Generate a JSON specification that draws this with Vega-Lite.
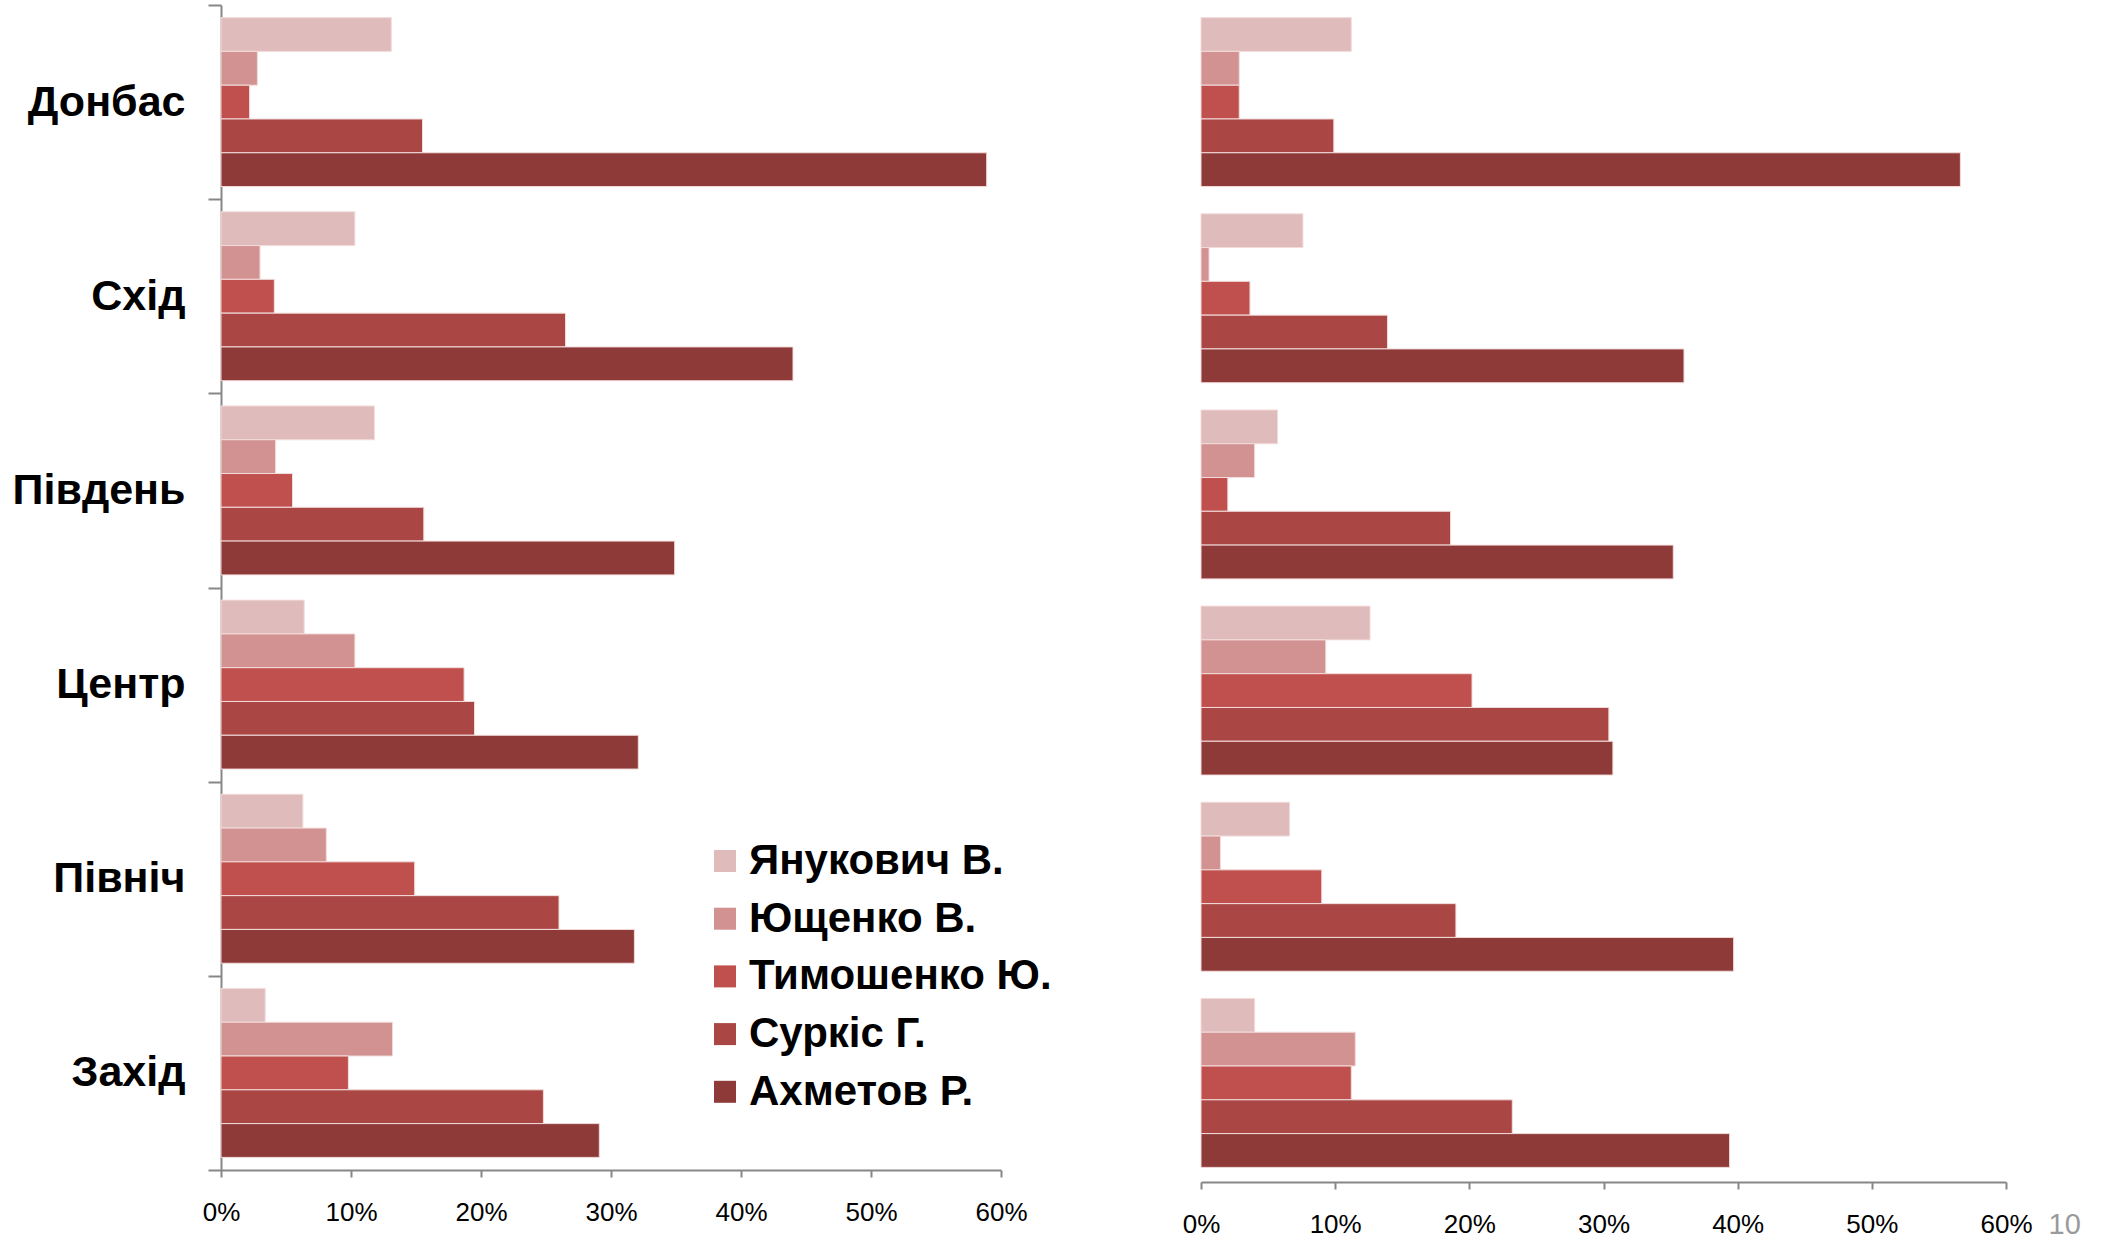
{
  "$schema": "https://vega.github.io/schema/vega-lite/v6.json",
  "padding": {"left": 12, "top": -16, "right": 5, "bottom": 5},
  "background": "white",
  "datasets": {
    "survey1": [
      {"region": "Донбас", "candidate": "Янукович В.", "share": 0.131},
      {"region": "Донбас", "candidate": "Ющенко В.", "share": 0.028},
      {"region": "Донбас", "candidate": "Тимошенко Ю.", "share": 0.022},
      {"region": "Донбас", "candidate": "Суркіс Г.", "share": 0.155},
      {"region": "Донбас", "candidate": "Ахметов Р.", "share": 0.589},
      {"region": "Схід", "candidate": "Янукович В.", "share": 0.103},
      {"region": "Схід", "candidate": "Ющенко В.", "share": 0.030},
      {"region": "Схід", "candidate": "Тимошенко Ю.", "share": 0.041},
      {"region": "Схід", "candidate": "Суркіс Г.", "share": 0.265},
      {"region": "Схід", "candidate": "Ахметов Р.", "share": 0.440},
      {"region": "Південь", "candidate": "Янукович В.", "share": 0.118},
      {"region": "Південь", "candidate": "Ющенко В.", "share": 0.042},
      {"region": "Південь", "candidate": "Тимошенко Ю.", "share": 0.055},
      {"region": "Південь", "candidate": "Суркіс Г.", "share": 0.156},
      {"region": "Південь", "candidate": "Ахметов Р.", "share": 0.349},
      {"region": "Центр", "candidate": "Янукович В.", "share": 0.064},
      {"region": "Центр", "candidate": "Ющенко В.", "share": 0.103},
      {"region": "Центр", "candidate": "Тимошенко Ю.", "share": 0.187},
      {"region": "Центр", "candidate": "Суркіс Г.", "share": 0.195},
      {"region": "Центр", "candidate": "Ахметов Р.", "share": 0.321},
      {"region": "Північ", "candidate": "Янукович В.", "share": 0.063},
      {"region": "Північ", "candidate": "Ющенко В.", "share": 0.081},
      {"region": "Північ", "candidate": "Тимошенко Ю.", "share": 0.149},
      {"region": "Північ", "candidate": "Суркіс Г.", "share": 0.260},
      {"region": "Північ", "candidate": "Ахметов Р.", "share": 0.318},
      {"region": "Захід", "candidate": "Янукович В.", "share": 0.034},
      {"region": "Захід", "candidate": "Ющенко В.", "share": 0.132},
      {"region": "Захід", "candidate": "Тимошенко Ю.", "share": 0.098},
      {"region": "Захід", "candidate": "Суркіс Г.", "share": 0.248},
      {"region": "Захід", "candidate": "Ахметов Р.", "share": 0.291}
    ],
    "survey2": [
      {"region": "Донбас", "candidate": "Янукович В.", "share": 0.112},
      {"region": "Донбас", "candidate": "Ющенко В.", "share": 0.0285},
      {"region": "Донбас", "candidate": "Тимошенко Ю.", "share": 0.0285},
      {"region": "Донбас", "candidate": "Суркіс Г.", "share": 0.099},
      {"region": "Донбас", "candidate": "Ахметов Р.", "share": 0.566},
      {"region": "Схід", "candidate": "Янукович В.", "share": 0.076},
      {"region": "Схід", "candidate": "Ющенко В.", "share": 0.006},
      {"region": "Схід", "candidate": "Тимошенко Ю.", "share": 0.0365},
      {"region": "Схід", "candidate": "Суркіс Г.", "share": 0.139},
      {"region": "Схід", "candidate": "Ахметов Р.", "share": 0.360},
      {"region": "Південь", "candidate": "Янукович В.", "share": 0.057},
      {"region": "Південь", "candidate": "Ющенко В.", "share": 0.040},
      {"region": "Південь", "candidate": "Тимошенко Ю.", "share": 0.020},
      {"region": "Південь", "candidate": "Суркіс Г.", "share": 0.186},
      {"region": "Південь", "candidate": "Ахметов Р.", "share": 0.352},
      {"region": "Центр", "candidate": "Янукович В.", "share": 0.126},
      {"region": "Центр", "candidate": "Ющенко В.", "share": 0.093},
      {"region": "Центр", "candidate": "Тимошенко Ю.", "share": 0.202},
      {"region": "Центр", "candidate": "Суркіс Г.", "share": 0.304},
      {"region": "Центр", "candidate": "Ахметов Р.", "share": 0.307},
      {"region": "Північ", "candidate": "Янукович В.", "share": 0.066},
      {"region": "Північ", "candidate": "Ющенко В.", "share": 0.0145},
      {"region": "Північ", "candidate": "Тимошенко Ю.", "share": 0.090},
      {"region": "Північ", "candidate": "Суркіс Г.", "share": 0.190},
      {"region": "Північ", "candidate": "Ахметов Р.", "share": 0.397},
      {"region": "Захід", "candidate": "Янукович В.", "share": 0.040},
      {"region": "Захід", "candidate": "Ющенко В.", "share": 0.115},
      {"region": "Захід", "candidate": "Тимошенко Ю.", "share": 0.112},
      {"region": "Захід", "candidate": "Суркіс Г.", "share": 0.232},
      {"region": "Захід", "candidate": "Ахметов Р.", "share": 0.394}
    ]
  },
  "hconcat": [
    {
      "width": 780,
      "height": 1165,
      "data": {"name": "survey1"},
      "mark": {"type": "bar", "stroke": "#F2DCDB", "strokeWidth": 1},
      "encoding": {
        "y": {
          "field": "region",
          "type": "nominal",
          "sort": ["Донбас", "Схід", "Південь", "Центр", "Північ", "Захід"],
          "scale": {"paddingInner": 0, "paddingOuter": 0},
          "axis": {
            "title": null,
            "domain": true,
            "domainColor": "#878787",
            "domainWidth": 2,
            "ticks": true,
            "tickBand": "extent",
            "tickSize": 13,
            "tickWidth": 2,
            "tickColor": "#878787",
            "labelFont": "Liberation Sans",
            "labelFontWeight": "bold",
            "labelFontSize": 43,
            "labelColor": "#000000",
            "labelPadding": 23,
            "labelLimit": 400
          }
        },
        "yOffset": {
          "field": "candidate",
          "type": "nominal",
          "sort": ["Янукович В.", "Ющенко В.", "Тимошенко Ю.", "Суркіс Г.", "Ахметов Р."],
          "scale": {"paddingInner": 0, "paddingOuter": 0.373}
        },
        "x": {
          "field": "share",
          "type": "quantitative",
          "scale": {"domain": [0, 0.6], "nice": false},
          "axis": {
            "title": null,
            "format": ".0%",
            "values": [0, 0.1, 0.2, 0.3, 0.4, 0.5, 0.6],
            "grid": false,
            "domainColor": "#878787",
            "domainWidth": 2,
            "tickColor": "#878787",
            "tickWidth": 2,
            "tickSize": 7,
            "labelFont": "Liberation Sans",
            "labelFontSize": 26,
            "labelColor": "#000000",
            "labelPadding": 22,
            "labelFlush": false
          }
        },
        "color": {
          "field": "candidate",
          "type": "nominal",
          "scale": {
            "domain": ["Янукович В.", "Ющенко В.", "Тимошенко Ю.", "Суркіс Г.", "Ахметов Р."],
            "range": ["#E0BBBB", "#D39292", "#C0504D", "#AA4644", "#8E3A38"]
          },
          "legend": {
            "title": null,
            "orient": "none",
            "legendX": 483,
            "legendY": 835,
            "padding": 0,
            "symbolType": "square",
            "symbolSize": 484,
            "symbolStrokeWidth": 0,
            "symbolOpacity": 1,
            "labelFont": "Liberation Sans",
            "labelFontWeight": "bold",
            "labelFontSize": 42,
            "labelColor": "#000000",
            "labelOffset": 3,
            "labelLimit": 600,
            "rowPadding": 15.7
          }
        }
      }
    },
    {
      "width": 805,
      "height": 1177,
      "data": {"name": "survey2"},
      "mark": {"type": "bar", "stroke": "#F2DCDB", "strokeWidth": 1},
      "encoding": {
        "y": {
          "field": "region",
          "type": "nominal",
          "sort": ["Донбас", "Схід", "Південь", "Центр", "Північ", "Захід"],
          "scale": {"paddingInner": 0, "paddingOuter": 0},
          "axis": null
        },
        "yOffset": {
          "field": "candidate",
          "type": "nominal",
          "sort": ["Янукович В.", "Ющенко В.", "Тимошенко Ю.", "Суркіс Г.", "Ахметов Р."],
          "scale": {"paddingInner": 0, "paddingOuter": 0.373}
        },
        "x": {
          "field": "share",
          "type": "quantitative",
          "scale": {"domain": [0, 0.6], "nice": false},
          "axis": {
            "title": "10",
            "titleX": 847,
            "titleY": 51,
            "titleAlign": "left",
            "titleBaseline": "alphabetic",
            "titleAngle": 0,
            "titleFont": "Liberation Sans",
            "titleFontSize": 29,
            "titleFontWeight": "normal",
            "titleColor": "#9A9A9A",
            "format": ".0%",
            "values": [0, 0.1, 0.2, 0.3, 0.4, 0.5, 0.6],
            "grid": false,
            "domainColor": "#878787",
            "domainWidth": 2,
            "tickColor": "#878787",
            "tickWidth": 2,
            "tickSize": 7,
            "labelFont": "Liberation Sans",
            "labelFontSize": 26,
            "labelColor": "#000000",
            "labelPadding": 22,
            "labelFlush": false
          }
        },
        "color": {
          "field": "candidate",
          "type": "nominal",
          "scale": {
            "domain": ["Янукович В.", "Ющенко В.", "Тимошенко Ю.", "Суркіс Г.", "Ахметов Р."],
            "range": ["#E0BBBB", "#D39292", "#C0504D", "#AA4644", "#8E3A38"]
          },
          "legend": null
        }
      }
    }
  ],
  "spacing": 200,
  "bounds": "flush",
  "resolve": {"scale": {"color": "independent", "y": "independent", "x": "independent"}, "legend": {"color": "independent"}},
  "config": {
    "view": {"stroke": null},
    "font": "Liberation Sans"
  }
}
